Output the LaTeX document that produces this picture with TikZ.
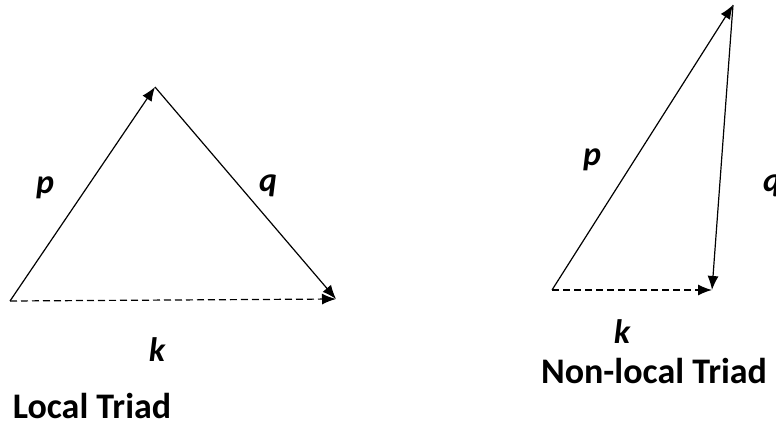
\documentclass[tikz,border=0pt]{standalone}
\usepackage{fontspec}
\setsansfont{Carlito}
\usetikzlibrary{arrows.meta}
\definecolor{ink}{HTML}{000000}
\tikzset{
  font=\sffamily,
  vector/.style={
    -{Latex[length=14pt,width=11pt]},
    draw=ink,
    line width=1.2pt
  },
  sumvector/.style={
    vector,
    dash pattern=on 7pt off 4pt
  },
  veclabel/.style={
    font=\sffamily\bfseries\itshape\fontsize{34}{34}\selectfont,
    text=ink,
    inner sep=0pt
  },
  triadtitle/.style={
    font=\sffamily\bfseries\fontsize{36}{36}\selectfont,
    text=ink,
    inner sep=0pt
  }
}

\begin{document}
\begin{tikzpicture}[x=1pt,y=-1pt]
\useasboundingbox (0,0) rectangle (776,428);

% ---------------------------------------------------------------------------
% Local triad
% ---------------------------------------------------------------------------
\coordinate (lk0) at (10,301);
\coordinate (ltop) at (155,87);
\coordinate (lk1) at (336,299);

\draw[vector] (lk0) -- (ltop);
\draw[vector] (ltop) -- (lk1);
\draw[sumvector] (lk0) -- (lk1);

\node[veclabel] (lp) at (45,188) {p};
\node[veclabel] (lq) at (268,186) {q};
\node[veclabel] (lk) at (157,350) {k};
\node[triadtitle] (local) at (92,406) {Local Triad};

% ---------------------------------------------------------------------------
% Non-local triad
% ---------------------------------------------------------------------------
\coordinate (nk0) at (552,290);
\coordinate (ntop) at (733,5);
\coordinate (nk1) at (712,290);

\draw[vector] (nk0) -- (ntop);
\draw[vector] (ntop) -- (nk1);
\draw[sumvector] (nk0) -- (nk1);

\node[veclabel] (np) at (592,160) {p};
\node[veclabel] (nq) at (772,186) {q};
\node[veclabel] (nk) at (622,332) {k};
\node[triadtitle] (nonlocal) at (654,371) {Non-local Triad};

\end{tikzpicture}
\end{document}
